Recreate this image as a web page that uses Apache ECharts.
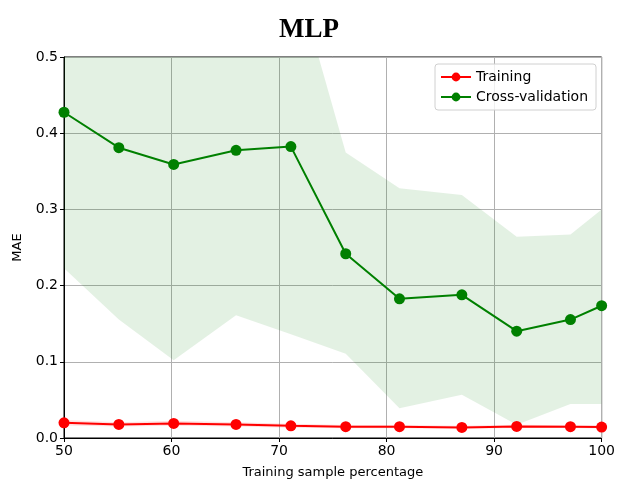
<!DOCTYPE html>
<html>
<head>
<meta charset="utf-8">
<script src="https://cdn.jsdelivr.net/npm/echarts@6/dist/echarts.min.js"></script>
<style>html,body{margin:0;padding:0;background:#fff}#c{width:618px;height:484px}</style>
</head>
<body>
<div id="c"></div>
<script>
var xValues = [50, 55.1, 60.2, 66, 71.1, 76.2, 81.2, 87, 92.1, 97.1, 100];
var trainMean = [0.0199, 0.0178, 0.0191, 0.0178, 0.0160, 0.0148, 0.0148, 0.0139, 0.0152, 0.0148, 0.0143];
var trainLower = [0.0165, 0.0150, 0.0160, 0.0150, 0.0135, 0.0128, 0.0128, 0.0120, 0.0132, 0.0130, 0.0125];
var trainUpper = [0.0235, 0.0208, 0.0225, 0.0208, 0.0188, 0.0170, 0.0170, 0.0160, 0.0174, 0.0168, 0.0163];
var cvMean = [0.4275, 0.381, 0.359, 0.3776, 0.3824, 0.2418, 0.1827, 0.1879, 0.1402, 0.1554, 0.1736];
var cvLower = [0.2227, 0.1554, 0.102, 0.161, 0.136, 0.1107, 0.039, 0.0569, 0.0173, 0.0447, 0.0447];
var cvUpper = [0.633, 0.607, 0.616, 0.594, 0.628, 0.3746, 0.3277, 0.319, 0.264, 0.267, 0.30];
var xTicks = [50, 60, 70, 80, 90, 100];
var yTicks = [0.0, 0.1, 0.2, 0.3, 0.4, 0.5];

function pairs(ys) { return xValues.map(function (x, i) { return [x, ys[i]]; }); }

function bandSeries(lower, upper, color) {
  return {
    type: 'custom', silent: true, clip: true, z: 1,
    data: [[xValues[0], lower[0]]],
    renderItem: function (params, api) {
      var pts = [];
      for (var i = 0; i < xValues.length; i++) pts.push(api.coord([xValues[i], upper[i]]));
      for (var j = xValues.length - 1; j >= 0; j--) pts.push(api.coord([xValues[j], lower[j]]));
      var cs = params.coordSys;
      return {
        type: 'polygon',
        shape: {points: pts},
        style: {fill: color, stroke: 'none'},
        clipPath: {type: 'rect', shape: {x: cs.x, y: cs.y, width: cs.width, height: cs.height}}
      };
    }
  };
}

var chart = echarts.init(document.getElementById('c'), null, {renderer: 'canvas'});
var font = 'DejaVu Sans';
chart.setOption({
  animation: false,
  backgroundColor: '#fff',
  title: {
    text: 'MLP', left: 'center', top: 12,
    textStyle: {fontFamily: 'Liberation Serif', fontWeight: 'bold', fontSize: 27, color: '#000'}
  },
  grid: {left: 64, right: 15, top: 57, bottom: 43, show: true, borderColor: '#000', borderWidth: 1, backgroundColor: 'transparent'},
  legend: {
    data: ['Training', 'Cross-validation'],
    orient: 'vertical', right: 22, top: 64,
    itemWidth: 30, itemHeight: 11, itemGap: 6,
    padding: [6, 8, 6, 5],
    borderColor: '#d0d0d0', borderWidth: 1, borderRadius: 3, backgroundColor: 'rgba(255,255,255,0.8)',
    textStyle: {fontFamily: font, fontSize: 14, color: '#000'}
  },
  xAxis: {
    type: 'value', min: 50, max: 100, interval: 10,
    name: 'Training sample percentage', nameLocation: 'middle', nameGap: 28,
    nameTextStyle: {fontFamily: font, fontSize: 13, color: '#000'},
    axisLine: {show: true, lineStyle: {color: '#000', width: 1}},
    axisTick: {show: true, inside: false, length: 4, lineStyle: {color: '#000'}},
    axisLabel: {fontFamily: font, fontSize: 14, color: '#000', margin: 6,
      formatter: function (v) { return xTicks.indexOf(v) >= 0 ? String(v) : ''; }},
    splitLine: {show: true, lineStyle: {color: '#b0b0b0', width: 1}}
  },
  yAxis: {
    type: 'value', min: 0, max: 0.5, interval: 0.1,
    name: 'MAE', nameLocation: 'middle', nameGap: 40, nameRotate: 90,
    nameTextStyle: {fontFamily: font, fontSize: 13, color: '#000'},
    axisLine: {show: true, lineStyle: {color: '#000', width: 1}},
    axisTick: {show: true, inside: false, length: 4, lineStyle: {color: '#000'}},
    axisLabel: {fontFamily: font, fontSize: 14, color: '#000', margin: 6,
      formatter: function (v) {
        for (var i = 0; i < yTicks.length; i++) { if (Math.abs(yTicks[i] - v) < 1e-9) return yTicks[i].toFixed(1); }
        return '';
      }},
    splitLine: {show: true, lineStyle: {color: '#b0b0b0', width: 1}}
  },
  series: [
    bandSeries(cvLower, cvUpper, 'rgba(0,128,0,0.11)'),
    bandSeries(trainLower, trainUpper, 'rgba(255,0,0,0.12)'),
    {name: 'Training', type: 'line', data: pairs(trainMean), color: '#ff0000',
      symbol: 'circle', symbolSize: 11, lineStyle: {color: '#ff0000', width: 2},
      itemStyle: {color: '#ff0000'}, z: 3},
    {name: 'Cross-validation', type: 'line', data: pairs(cvMean), color: '#008000',
      symbol: 'circle', symbolSize: 11, lineStyle: {color: '#008000', width: 2},
      itemStyle: {color: '#008000'}, z: 4}
  ]
});
</script>
</body>
</html>
